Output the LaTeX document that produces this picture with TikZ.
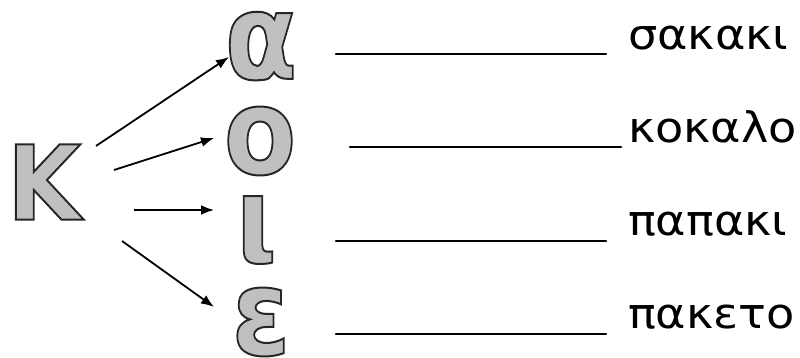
\documentclass[tikz,border=0pt]{standalone}
\usepackage{fontspec}
\setmainfont{DejaVu Sans}
\usetikzlibrary{arrows.meta}
\definecolor{lettergray}{RGB}{192,192,192}
\newcommand\outlined[1]{\special{pdf:literal direct 2 Tr 2 w 0.15 G}#1\special{pdf:literal direct 0 Tr 0 G}}
\begin{document}
\begin{tikzpicture}[x=1pt,y=-1pt,line width=2pt,
  bigletter/.style={inner sep=0pt,text=lettergray,font=\bfseries\fontsize{120}{120}\selectfont,xscale=0.88},
  word/.style={inner sep=0pt,anchor=base west,font=\fontsize{42}{42}\selectfont,xscale=1.1},
  pointer/.style={-{Latex[length=13pt,width=10pt]},line width=1.8pt},
  blank/.style={line width=2.6pt,line cap=round}]
\useasboundingbox (0,0) rectangle (800,358);
\node[bigletter,font=\bfseries\fontsize{103}{103}\selectfont,xscale=1.05] (kappa) at (44,182) {\outlined{Κ}};
\node[bigletter] (alpha) at (261,46) {\outlined{α}};
\node[bigletter] (omicron) at (260,141) {\outlined{ο}};
\node[bigletter] (iota) at (256,230) {\outlined{ι}};
\node[bigletter] (epsilon) at (261,322) {\outlined{ε}};
\coordinate (s1) at (96,146);
\coordinate (e1) at (229,57);
\coordinate (s2) at (114,170);
\coordinate (e2) at (214,138);
\coordinate (s3) at (134,210);
\coordinate (e3) at (214,210);
\coordinate (s4) at (122,241);
\coordinate (e4) at (214,307);
\draw[pointer] (s1) -- (e1);
\draw[pointer] (s2) -- (e2);
\draw[pointer] (s3) -- (e3);
\draw[pointer] (s4) -- (e4);
\draw[blank] (336,54) -- (606,54);
\draw[blank] (350,147) -- (621,147);
\draw[blank] (336,241) -- (606,241);
\draw[blank] (336,334) -- (606,334);
\node[word] (w1) at (627,50) {σακακι};
\node[word] (w2) at (627,143) {κοκαλο};
\node[word] (w3) at (627,235) {παπακι};
\node[word] (w4) at (627,328) {πακετο};
\end{tikzpicture}
\end{document}
